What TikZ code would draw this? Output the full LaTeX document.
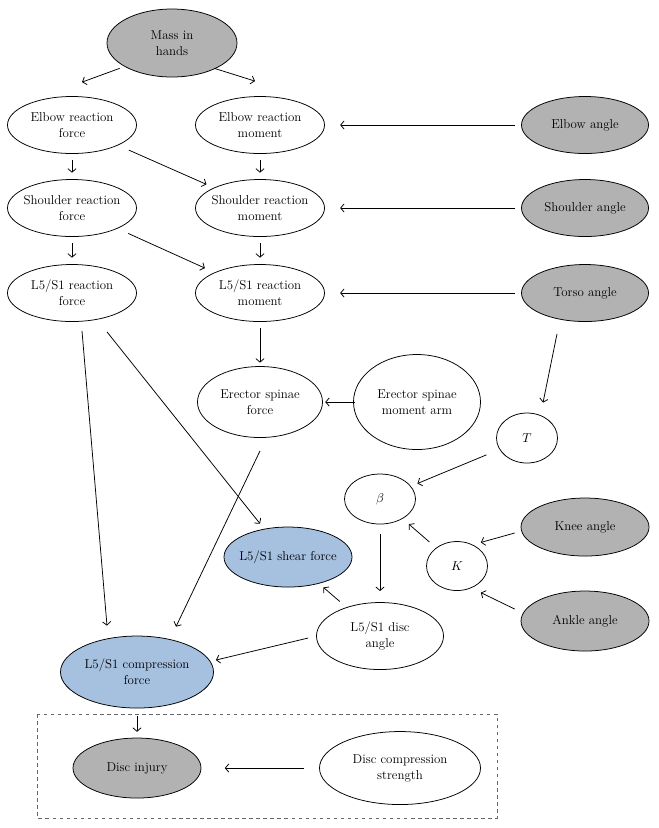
\documentclass[tikz,border=0pt]{standalone}
\usepackage{tikz}
\usetikzlibrary{positioning,shapes.geometric,arrows.meta}
\definecolor{shearblue}{RGB}{166,192,224}
\begin{document}
\begin{tikzpicture}[x=0.03cm,y=-0.03cm,on grid,line width=0.65pt,
                    >={Straight Barb[length=3pt,width=7pt]},
                    every node/.style={font=\fontsize{11}{13.6}\selectfont},
                    main node/.style={ellipse,draw,inner xsep=-4pt,inner ysep=0pt,align=center,
                                      minimum width=3.87cm,minimum height=1.71cm},
                    grey node/.style={main node,fill=gray!60},
                    blue node/.style={main node,fill=shearblue},
                    arr/.style={->,shorten <=5.5pt,shorten >=5.5pt}]
    \useasboundingbox (0,0) rectangle (658,828);

    \node[grey node,minimum width=3.9cm,minimum height=2.04cm] (mass) at (172,43) {Mass in\\hands};
    \node[main node] (erf) [below left=2.46cm and 3cm of mass] {Elbow reaction\\force};
    \node[main node] (erm) [right=5.64cm of erf] {Elbow reaction\\moment};
    \node[main node] (srf) [below=2.49cm of erf] {Shoulder reaction\\force};
    \node[main node] (srm) [right=5.64cm of srf] {Shoulder reaction\\moment};
    \node[main node] (lrf) [below=2.55cm of srf] {L5/S1 reaction\\force};
    \node[main node] (lrm) [right=5.64cm of lrf] {L5/S1 reaction\\moment};

    \node[grey node,minimum width=3.81cm] (elbang) [right=9.75cm of erm] {Elbow angle};
    \node[grey node,minimum width=3.81cm] (shang) [right=9.75cm of srm] {Shoulder angle};
    \node[grey node,minimum width=3.81cm] (torang) [right=9.75cm of lrm] {Torso angle};

    \node[main node,minimum width=3.75cm,minimum height=2.13cm] (esf) [below=3.27cm of lrm] {Erector spinae\\force};
    \node[main node,minimum width=3.81cm,minimum height=2.85cm] (esma) [right=4.71cm of esf] {Erector spinae\\moment arm};

    \node[main node,minimum width=1.83cm,minimum height=1.5cm] (T) [below left=4.35cm and 1.74cm of torang] {$T$};
    \node[main node,minimum width=2.13cm,minimum height=1.5cm] (beta) [below left=1.83cm and 4.41cm of T] {$\beta$};
    \node[main node,minimum width=1.83cm,minimum height=1.47cm] (K) [below right=2.01cm and 2.31cm of beta] {$K$};
    \node[grey node,minimum width=3.84cm,minimum height=1.74cm] (knee) [above right=1.17cm and 3.84cm of K] {Knee angle};
    \node[grey node,minimum width=3.84cm,minimum height=1.8cm] (ankle) [below right=1.65cm and 3.84cm of K] {Ankle angle};

    \node[blue node,minimum width=3.84cm,minimum height=1.8cm] (shear) [below left=1.74cm and 2.76cm of beta] {L5/S1 shear force};
    \node[main node,minimum width=3.81cm,minimum height=2.01cm] (disc) [below=4.11cm of beta] {L5/S1 disc\\angle};
    \node[blue node,minimum width=4.59cm,minimum height=2.16cm] (comp) [below left=1.08cm and 7.29cm of disc] {L5/S1 compression\\force};

    \node[grey node,minimum width=3.84cm,minimum height=1.8cm] (injury) [below=2.88cm of comp] {Disc injury};
    \node[main node,minimum width=4.83cm,minimum height=2.19cm] (dcs) [right=7.89cm of injury] {Disc compression\\strength};

    \draw[dashed,line width=0.5pt,gray!80!black] (37,714) rectangle (497,818);

    \path[arr]
        (erf) edge (srf)
        (srf) edge (lrf)
        (erm) edge (srm)
        (srm) edge (lrm)
        (erf) edge[shorten <=10pt,shorten >=7pt] (srm)
        (srf) edge[shorten <=10pt,shorten >=9pt] (lrm)
        (elbang) edge[shorten >=13pt] (erm)
        (shang) edge[shorten >=13pt] (srm)
        (torang) edge[shorten >=13pt] (lrm)
        (lrm) edge[shorten >=3pt] (esf)
        (esma) edge[shorten <=-2pt,shorten >=2pt] (esf)
        (T) edge[shorten <=12pt,shorten >=6pt] (beta)
        (K) edge[shorten <=7.5pt,shorten >=7pt] (beta)
        (beta) edge[shorten <=8.5pt,shorten >=9.5pt] (disc)
        (disc) edge[shorten <=7.5pt,shorten >=5pt] (shear)
        (comp) edge[shorten <=6.5pt,shorten >=5pt] (injury)
        (dcs) edge[shorten <=13pt,shorten >=20pt] (injury);

    \draw[->] ([shift={(-6,1)}]mass.south west) -- ([shift={(10,-14)}]erf.north);
    \draw[->] ([shift={(-4,1)}]mass.south east) -- ([shift={(-5,-15)}]erm.north);
    \draw[->] ([shift={(-28,12)}]torang.south) -- ([shift={(16,-10)}]T.north);
    \draw[->] ([shift={(-6,6)}]knee.west) -- ([shift={(2,-6)}]K.north east);
    \draw[->] ([shift={(-6,-12)}]ankle.west) -- ([shift={(2,9)}]K.south east);
    \draw[->] ([shift={(-8,2)}]disc.west) -- ([shift={(2,-12)}]comp.east);
    \draw[->] ([shift={(10,9)}]lrf.south) -- ([shift={(-30,-10)}]comp.north);
    \draw[->] ([shift={(35,10)}]lrf.south) -- ([shift={(-28,-3)}]shear.north);
    \draw[->] ([shift={(0,13)}]esf.south) -- ([shift={(39,-9)}]comp.north);

\end{tikzpicture}
\end{document}
